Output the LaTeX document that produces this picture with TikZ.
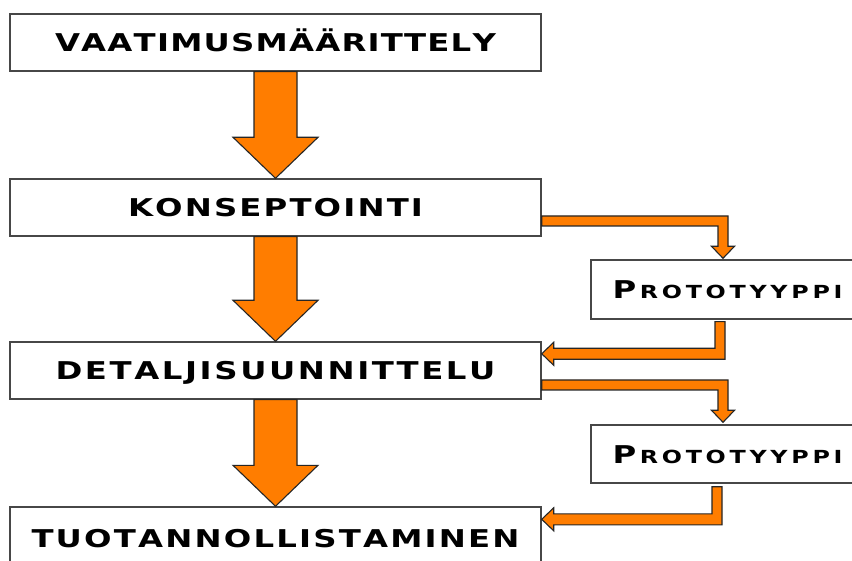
\documentclass[tikz,border=0pt]{standalone}
\usepackage{fontspec}
\usetikzlibrary{calc}
\newfontfamily\eurofont[FakeStretch=1.32]{DejaVu Sans Bold}
\definecolor{arrorange}{RGB}{255,125,0}
\ExplSyntaxOn
\NewDocumentCommand\spreadtext{mm}{\makebox[#1][s]{\tl_map_inline:nn{#2}{##1\hfil}\unskip}}
\ExplSyntaxOff
\newcommand\bigP{{\fontsize{24.5pt}{24.5pt}\selectfont P}}
\tikzset{
  stagebox/.style={draw=black!72, line width=1.4pt, fill=white, inner sep=0pt,
    minimum width=531pt, minimum height=57pt, text height=18pt, text depth=0pt,
    font=\eurofont\fontsize{24.5pt}{24.5pt}\selectfont},
  protobox/.style={stagebox, minimum width=273pt, minimum height=59pt,
    font=\eurofont\fontsize{18pt}{18pt}\selectfont},
  orarrow/.style={draw=black!85, line width=1.1pt, fill=arrorange, line join=miter},
}
\begin{document}
\begin{tikzpicture}[x=1pt,y=-1pt]
\useasboundingbox (0,0) rectangle (852,561);
\clip (0,0) rectangle (852,561);
\fill[white] (0,0) rectangle (852,561);
\node[stagebox] (b1) at (275.5,42.5) {\spreadtext{441pt}{VAATIMUSMÄÄRITTELY}};
\node[stagebox] (b2) at (275.5,207.5) {\spreadtext{295pt}{KONSEPTOINTI}};
\node[stagebox] (b3) at (275.5,370.5) {\spreadtext{440pt}{DETALJISUUNNITTELU}};
\node[stagebox, minimum height=63pt] (b4) at (275.5,538.5) {\spreadtext{488pt}{TUOTANNOLLISTAMINEN}};
\node[protobox] (p1) at (727.5,289.5) {\spreadtext{230pt}{{\bigP}ROTOTYYPPI}};
\node[protobox, minimum height=58pt] (p2) at (727.5,454) {\spreadtext{230pt}{{\bigP}ROTOTYYPPI}};
% big downward arrows
\foreach \a/\b in {b1/b2,b2/b3,b3/b4}{
  \draw[orarrow] let \p1=(\a.south), \p2=(\b.north) in
    (\x1-21.5pt,\y1) -- (\x1+21.5pt,\y1) -- (\x1+21.5pt,\y2+41pt) -- (\x1+42.5pt,\y2+41pt)
    -- (\x1,\y2) -- (\x1-42.5pt,\y2+41pt) -- (\x1-21.5pt,\y2+41pt) -- cycle;
}
% elbow arrows to prototypes
\foreach \a/\b/\dy/\ty in {b2/p1/8.5/-1, b3/p2/9.5/-2}{
  \draw[orarrow] let \p1=($(\a.east)+(0,\dy)$), \p2=($(\b.north)+(-4.5,\ty)$) in
    (\x1,\y1) -- (\x2+5pt,\y1) -- (\x2+5pt,\y2+12pt) -- (\x2+11.5pt,\y2+12pt) -- (\x2,\y2)
    -- (\x2-11.5pt,\y2+12pt) -- (\x2-5pt,\y2+12pt) -- (\x2-5pt,\y1-10pt) -- (\x1,\y1-10pt) -- cycle;
}
% return arrows from prototypes
\foreach \a/\b/\dx/\dy/\ty in {p1/b3/-7.5/2/12.5, p2/b4/-10.5/3/13}{
  \draw[orarrow] let \p1=($(\a.south)+(\dx,\dy)$), \p2=($(\b.north east)+(0,\ty)$) in
    (\x1-5pt,\y1) -- (\x1+5pt,\y1) -- (\x1+5pt,\y2-5.5pt) -- (\x2+12pt,\y2-5.5pt)
    -- (\x2+12pt,\y2-11.5pt) -- (\x2,\y2) -- (\x2+12pt,\y2+11.5pt) -- (\x2+12pt,\y2+5.5pt)
    -- (\x1-5pt,\y2+5.5pt) -- cycle;
}
\end{tikzpicture}
\end{document}
